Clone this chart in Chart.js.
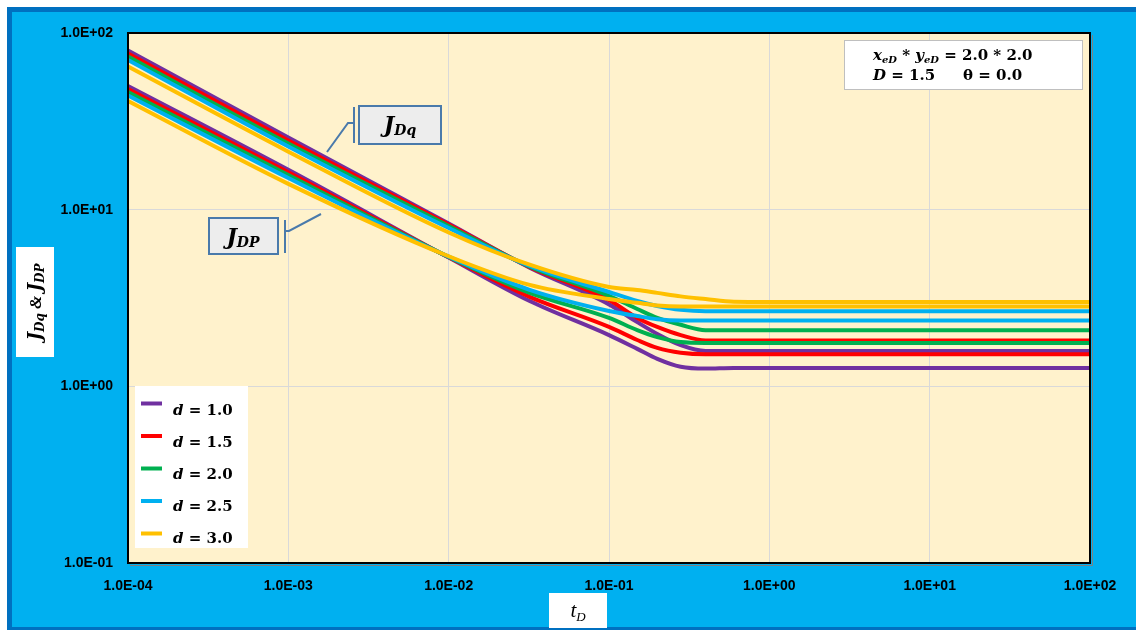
<!DOCTYPE html>
<html>
<head>
<meta charset="utf-8">
<script src="https://cdn.jsdelivr.net/npm/chart.js@4.4.1/dist/chart.umd.min.js"></script>
<style>
  html, body { margin: 0; padding: 0; background: #ffffff; }
  #wrap { width: 1136px; height: 632px; }
</style>
</head>
<body>
<div id="wrap"><canvas id="chart" width="1136" height="632"></canvas></div>
<script>
// Dimensionless time samples
const tD = [1e-4, 1e-3, 1e-2, 0.032, 0.1, 0.15, 0.2, 0.28, 0.4, 0.6, 1, 100];

// Fractal dimension d of each curve
const dLabels = ['1.0', '1.5', '2.0', '2.5', '3.0'];
const lineColors = ['#7030A0', '#FF0000', '#00B050', '#00B0F0', '#FFC000'];

// Rate-normalised dimensionless productivity J_Dq
const jDq_d10 = [79.6, 25.6, 8.36, 4.70, 2.91, 2.31, 1.98, 1.71, 1.585, 1.585, 1.585, 1.585];
const jDq_d15 = [76.6, 24.6, 8.24, 4.73, 3.08, 2.44, 2.17, 1.95, 1.82, 1.82, 1.82, 1.82];
const jDq_d20 = [73.6, 23.7, 8.09, 4.76, 3.25, 2.74, 2.44, 2.23, 2.08, 2.08, 2.08, 2.08];
const jDq_d25 = [70.4, 22.8, 7.87, 4.80, 3.42, 3.04, 2.85, 2.71, 2.66, 2.66, 2.66, 2.66];
const jDq_d30 = [64.6, 21.3, 7.43, 4.88, 3.65, 3.51, 3.38, 3.23, 3.12, 3.01, 3.00, 3.00];

// Pressure-normalised dimensionless productivity J_DP
const jDP_d10 = [50.1, 16.8, 5.36, 3.04, 1.95, 1.63, 1.43, 1.29, 1.26, 1.27, 1.27, 1.27];
const jDP_d15 = [48.2, 16.3, 5.38, 3.21, 2.17, 1.83, 1.65, 1.55, 1.52, 1.52, 1.52, 1.52];
const jDP_d20 = [46.4, 15.7, 5.40, 3.38, 2.44, 2.08, 1.90, 1.78, 1.76, 1.76, 1.76, 1.76];
const jDP_d25 = [44.3, 15.1, 5.42, 3.52, 2.67, 2.50, 2.40, 2.36, 2.36, 2.36, 2.36, 2.36];
const jDP_d30 = [41.2, 14.0, 5.45, 3.75, 3.12, 2.97, 2.87, 2.83, 2.83, 2.83, 2.83, 2.83];

// Axis ticks (decades)
const xTicks = [1e-4, 1e-3, 1e-2, 1e-1, 1, 10, 100];
const yTicks = [0.1, 1, 10, 100];

const jDqSeries = [jDq_d10, jDq_d15, jDq_d20, jDq_d25, jDq_d30];
const jDPSeries = [jDP_d10, jDP_d15, jDP_d20, jDP_d25, jDP_d30];

function sciLabel(v) {
  const e = Math.round(Math.log10(v));
  return '1.0E' + (e < 0 ? '-' : '+') + String(Math.abs(e)).padStart(2, '0');
}

function makeDataset(name, values, i) {
  return {
    label: name + ' d=' + dLabels[i],
    data: tD.map((t, k) => ({ x: t, y: values[k] })),
    borderColor: lineColors[i],
    backgroundColor: lineColors[i],
    borderWidth: 4,
    pointRadius: 0,
    fill: false,
    cubicInterpolationMode: 'monotone',
    order: 4 - i
  };
}

const datasets = [];
jDqSeries.forEach((s, i) => datasets.push(makeDataset('JDq', s, i)));
jDPSeries.forEach((s, i) => datasets.push(makeDataset('JDP', s, i)));

const MATH = '"DejaVu Serif", "Liberation Serif", serif';

// Draws a run of differently styled text pieces on one baseline
function drawRich(ctx, x, y, parts, align) {
  let w = 0;
  parts.forEach(p => { ctx.font = p.f; p.w = ctx.measureText(p.t).width; w += p.w; });
  let cx = align === 'center' ? x - w / 2 : x;
  ctx.textAlign = 'left';
  ctx.textBaseline = 'alphabetic';
  parts.forEach(p => { ctx.font = p.f; ctx.fillText(p.t, cx, y + (p.dy || 0)); cx += p.w; });
}

const decor = {
  id: 'decor',
  beforeDraw(chart) {
    const { ctx, chartArea: a } = chart;
    ctx.save();
    ctx.fillStyle = '#ffffff';
    ctx.fillRect(0, 0, chart.width, chart.height);
    ctx.fillStyle = '#0070C0';
    ctx.fillRect(7, 7, chart.width - 7, 623);
    ctx.fillStyle = '#00B0F0';
    ctx.fillRect(12, 12, chart.width - 12, 615);
    ctx.fillStyle = '#FFF2CC';
    ctx.fillRect(a.left, a.top, a.right - a.left, a.bottom - a.top);
    ctx.restore();
  },
  afterDraw(chart) {
    const { ctx, chartArea: a } = chart;
    ctx.save();

    // plot frame
    ctx.strokeStyle = '#7F7F7F';
    ctx.lineWidth = 1;
    ctx.beginPath();
    ctx.moveTo(a.right + 2.5, a.top + 2);
    ctx.lineTo(a.right + 2.5, a.bottom + 2.5);
    ctx.lineTo(a.left + 2, a.bottom + 2.5);
    ctx.stroke();
    ctx.strokeStyle = '#000000';
    ctx.lineWidth = 2;
    ctx.strokeRect(a.left, a.top, a.right - a.left, a.bottom - a.top);

    // parameter box
    ctx.fillStyle = '#ffffff';
    ctx.fillRect(844, 40, 238, 49);
    ctx.strokeStyle = '#BFBFBF';
    ctx.lineWidth = 1;
    ctx.strokeRect(844.5, 40.5, 238, 49);
    ctx.fillStyle = '#000000';
    const bi15 = 'italic bold 15px ' + MATH;
    const bi10 = 'italic bold 10px ' + MATH;
    const b15 = 'bold 15px ' + MATH;
    drawRich(ctx, 873, 60, [
      { t: 'x', f: bi15 }, { t: 'eD', f: bi10, dy: 3 },
      { t: ' * ', f: b15 },
      { t: 'y', f: bi15 }, { t: 'eD', f: bi10, dy: 3 },
      { t: ' = 2.0 * 2.0', f: b15 }
    ]);
    drawRich(ctx, 873, 80, [{ t: 'D', f: bi15 }, { t: ' = 1.5', f: b15 }]);
    drawRich(ctx, 963, 80, [{ t: '\u03B8 = 0.0', f: b15 }]);

    // callout labels
    const calloutBlue = '#4A7AAB';
    ctx.fillStyle = '#EDEDED';
    ctx.fillRect(359, 106, 82, 38);
    ctx.fillRect(209, 218, 69, 36);
    ctx.strokeStyle = calloutBlue;
    ctx.lineWidth = 2;
    ctx.strokeRect(359, 106, 82, 38);
    ctx.strokeRect(209, 218, 69, 36);
    ctx.beginPath();
    ctx.moveTo(354, 107); ctx.lineTo(354, 143);
    ctx.moveTo(354, 123); ctx.lineTo(348, 123); ctx.lineTo(327, 152);
    ctx.moveTo(285, 220); ctx.lineTo(285, 253);
    ctx.moveTo(285, 231); ctx.lineTo(289, 231); ctx.lineTo(321, 214);
    ctx.stroke();
    ctx.fillStyle = '#000000';
    const bi22 = 'italic bold 22px ' + MATH;
    const bi14 = 'italic bold 14px ' + MATH;
    drawRich(ctx, 400, 132, [{ t: 'J', f: bi22 }, { t: 'Dq', f: bi14, dy: 3 }], 'center');
    drawRich(ctx, 243, 244, [{ t: 'J', f: bi22 }, { t: 'DP', f: bi14, dy: 3 }], 'center');

    // legend
    ctx.fillStyle = '#ffffff';
    ctx.fillRect(135, 386, 113, 162);
    dLabels.forEach((d, i) => {
      const ly = 403.5 + i * 32.5;
      ctx.strokeStyle = lineColors[i];
      ctx.lineWidth = 4;
      ctx.beginPath();
      ctx.moveTo(141, ly); ctx.lineTo(162, ly);
      ctx.stroke();
      ctx.fillStyle = '#000000';
      drawRich(ctx, 173, 415 + i * 32, [{ t: 'd', f: bi15 }, { t: ' = ' + d, f: b15 }]);
    });

    // y-axis title
    ctx.fillStyle = '#ffffff';
    ctx.fillRect(16, 247, 38, 110);
    ctx.save();
    ctx.translate(41, 302);
    ctx.rotate(-Math.PI / 2);
    ctx.fillStyle = '#000000';
    const bi18 = 'italic bold 18px ' + MATH;
    const bi12 = 'italic bold 12px ' + MATH;
    drawRich(ctx, 0, 0, [
      { t: 'J', f: bi18 }, { t: 'Dq', f: bi12, dy: 3 },
      { t: ' & ', f: 'italic bold 17px "Liberation Serif", serif' },
      { t: 'J', f: bi18 }, { t: 'DP', f: bi12, dy: 3 }
    ], 'center');
    ctx.restore();

    // x-axis title
    ctx.fillStyle = '#ffffff';
    ctx.fillRect(549, 593, 58, 35);
    ctx.fillStyle = '#000000';
    drawRich(ctx, 578, 617, [
      { t: 't', f: 'italic 21px "Liberation Serif", serif' },
      { t: 'D', f: 'italic 13px "Liberation Serif", serif', dy: 4 }
    ], 'center');

    ctx.restore();
  }
};

const tickFont = { family: '"Liberation Sans", Arial, sans-serif', size: 14, weight: 'bold' };

new Chart(document.getElementById('chart'), {
  type: 'line',
  data: { datasets },
  options: {
    responsive: false,
    devicePixelRatio: 1,
    animation: false,
    events: [],
    layout: { padding: { top: 33, right: 46, left: 0, bottom: 0 } },
    plugins: { legend: { display: false }, tooltip: { enabled: false }, title: { display: false } },
    scales: {
      x: {
        type: 'logarithmic',
        min: xTicks[0],
        max: xTicks[xTicks.length - 1],
        afterBuildTicks: s => { s.ticks = xTicks.map(v => ({ value: v })); },
        afterFit: s => { s.height = 69; },
        ticks: { callback: v => sciLabel(v), color: '#000000', font: tickFont, padding: 15, maxRotation: 0, autoSkip: false },
        grid: { color: '#D9D9D9', lineWidth: 1, drawTicks: false },
        border: { display: false }
      },
      y: {
        type: 'logarithmic',
        min: yTicks[0],
        max: yTicks[yTicks.length - 1],
        afterBuildTicks: s => { s.ticks = yTicks.map(v => ({ value: v })); },
        afterFit: s => { s.width = 128; },
        ticks: { callback: v => sciLabel(v), color: '#000000', font: tickFont, padding: 15, autoSkip: false },
        grid: { color: '#D9D9D9', lineWidth: 1, drawTicks: false },
        border: { display: false }
      }
    }
  },
  plugins: [decor]
});
</script>
</body>
</html>
